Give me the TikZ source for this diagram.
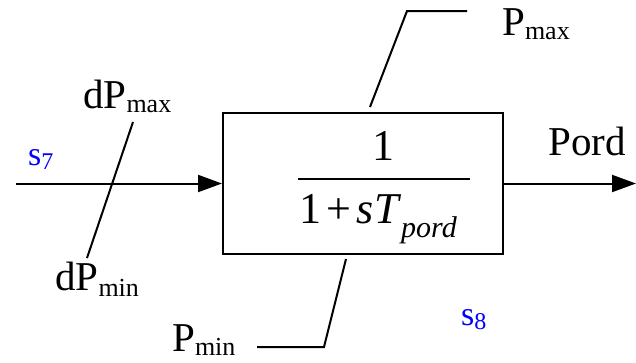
\documentclass[tikz,border=0pt]{standalone}
\usepackage{fontspec}
\setmainfont{Liberation Serif}
\usetikzlibrary{arrows.meta, positioning}
\definecolor{sigblue}{RGB}{0,0,255}
\newcommand{\lowtxt}[2][6pt]{\raisebox{-#1}{\fontsize{26}{30}\selectfont #2}}
\newcommand{\sigsub}[1]{\raisebox{-4pt}{\fontsize{24}{28}\selectfont #1}}

\begin{document}
\begin{tikzpicture}[x=1pt, y=-1pt, >={Triangle[length=24pt, width=17pt]}]
  \tikzstyle{lbl} = [inner sep=0pt, anchor=base west, font=\fontsize{41}{48}\selectfont]
  \tikzstyle{sig} = [inner sep=0pt, anchor=base west, text=sigblue, font=\fontsize{34}{40}\selectfont]
  \tikzstyle{wire} = [line width=2pt, black]
  \tikzstyle{block} = [rectangle, draw, line width=2pt, minimum width=280pt, minimum height=141pt, inner sep=0pt]

  \useasboundingbox (0,0) rectangle (636,362);

  % transfer function block
  \node [block] (pord) at (363,183.5) {};
  \node [lbl, anchor=base, font=\fontsize{44}{50}\selectfont] (num) at (383,160) {1};
  \coordinate (barl) at (298,179);
  \coordinate (barr) at (470,179);
  \draw[wire] (barl) -- (barr);
  \node [lbl, font=\fontsize{44}{50}\selectfont] (den) at (299,223) {1\hspace{5pt}+\hspace{5pt}\textit{s\kern1pt T}\raisebox{-14pt}{\fontsize{30}{34}\selectfont\textit{pord}}};

  % input and output
  \coordinate (in) at (16,183.5);
  \coordinate (out) at (636,183.5);
  \draw[wire, ->] (in) -- (pord.west);
  \draw[wire, ->] (pord.east) -- (out);
  \node [sig] (s7) at (28,165) {s\sigsub{7}};
  \node [sig] (s8) at (461,325) {s\sigsub{8}};
  \node [lbl] (pordout) at (548,155) {Pord};

  % rate limiter
  \coordinate (dmaxend) at (133,122);
  \coordinate (dminend) at (87,258);
  \draw[wire] (dmaxend) -- (dminend);
  \node [lbl] (dpmax) at (83,108) {dP\lowtxt[4pt]{max}};
  \node [lbl] (dpmin) at (55,290) {dP\lowtxt{min}};

  % output limits
  \coordinate (pmaxa) at (370,107);
  \coordinate (pmaxb) at (407,11);
  \coordinate (pmaxc) at (467,11);
  \draw[wire] (pmaxa) -- (pmaxb) -- (pmaxc);
  \node [lbl] (pmax) at (502,35) {P\lowtxt[4pt]{max}};
  \coordinate (pmina) at (346,259);
  \coordinate (pminb) at (324,347);
  \coordinate (pminc) at (257,347);
  \draw[wire] (pmina) -- (pminb) -- (pminc);
  \node [lbl] (pmin) at (172,351) {P\lowtxt[4pt]{min}};
\end{tikzpicture}
\end{document}
